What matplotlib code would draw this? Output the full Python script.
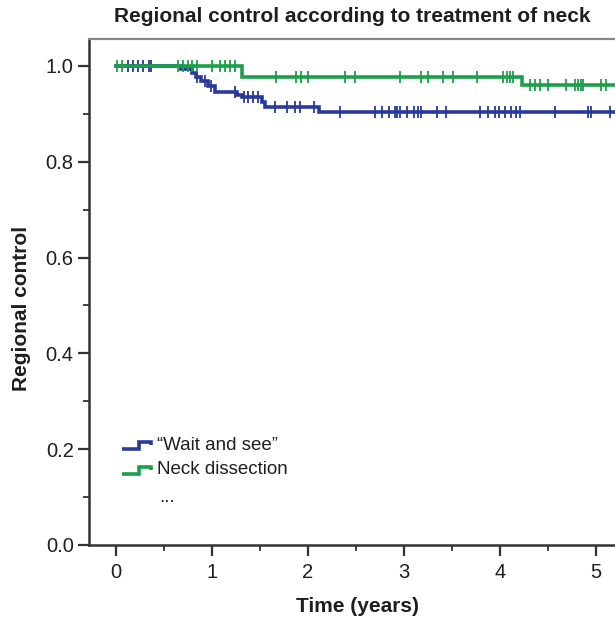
import matplotlib
matplotlib.use("Agg")
import matplotlib.pyplot as plt
from matplotlib.ticker import MultipleLocator

plt.rcParams['font.family'] = ['Liberation Sans', 'DejaVu Sans']

# Kaplan-Meier step data (years, survival)
wait_times = [0.0, 0.68, 0.79, 0.83, 0.89, 0.96, 1.03, 1.26, 1.31, 1.52, 1.55, 2.12, 5.4]
wait_surv = [1.0, 0.993, 0.985, 0.977, 0.968, 0.957, 0.946, 0.939, 0.934, 0.925, 0.915, 0.904, 0.904]
wait_censor = [0.13, 0.18, 0.23, 0.28, 0.34, 0.37, 0.84, 0.93, 0.99, 1.24, 1.33, 1.38, 1.43, 1.48,
               1.66, 1.78, 1.86, 1.92, 2.06, 2.33, 2.70, 2.77, 2.84, 2.91, 2.93, 2.96, 3.03,
               3.10, 3.15, 3.18, 3.34, 3.44, 3.79, 3.88, 3.95, 3.99, 4.05, 4.12, 4.17, 4.21,
               4.57, 4.92, 4.95, 5.15]

neck_times = [0.0, 1.31, 4.23, 5.4]
neck_surv = [1.0, 0.976, 0.960, 0.960]
neck_censor = [0.01, 0.06, 0.65, 0.70, 0.75, 0.79, 0.84, 1.00, 1.08, 1.14, 1.19, 1.24,
               1.67, 1.88, 1.93, 2.00, 2.39, 2.49, 2.96, 3.18, 3.25, 3.41, 3.51, 3.76,
               4.03, 4.07, 4.10, 4.14, 4.31, 4.36, 4.42, 4.50, 4.69, 4.78, 4.81, 4.84,
               4.87, 5.05, 5.10]

labels = ["\u201cWait and see\u201d", "Neck dissection"]
blue = "#28399a"
green = "#1c9f4b"
ink = "#1e1e1e"


def surv_at(times, surv, t):
    s = surv[0]
    for ti, si in zip(times, surv):
        if ti <= t:
            s = si
    return s


fig = plt.figure(figsize=(6.15, 6.22), dpi=100)
ax = fig.add_axes([89 / 615, 1 - 545 / 622, 530 / 615, 506 / 622])

for times, surv, cens, col in [(wait_times, wait_surv, wait_censor, blue),
                               (neck_times, neck_surv, neck_censor, green)]:
    ax.step(times, surv, where="post", color=col, lw=2.6, solid_joinstyle="miter")
    ax.plot(cens, [surv_at(times, surv, c) for c in cens], ls="none", marker="|",
            ms=8, mew=1.3, color=col)

ax.set_xlim(-0.281, 5.24)
ax.set_ylim(0.0, 1.056)
ax.xaxis.set_major_locator(MultipleLocator(1))
ax.xaxis.set_minor_locator(MultipleLocator(0.5))
ax.yaxis.set_major_locator(MultipleLocator(0.2))
ax.yaxis.set_minor_locator(MultipleLocator(0.1))
ax.yaxis.set_major_formatter(matplotlib.ticker.FormatStrFormatter("%.1f"))
ax.tick_params(which="major", length=8, width=1.6, color="#333333", labelsize=14.5,
               labelcolor=ink)
ax.tick_params(axis="y", which="major", pad=3)
ax.tick_params(axis="x", which="major", pad=5)
ax.tick_params(which="minor", length=4, width=1.3, color="#333333")
ax.spines["right"].set_visible(False)
ax.spines["left"].set_color("#333333")
ax.spines["left"].set_linewidth(1.8)
ax.spines["bottom"].set_color("#333333")
ax.spines["bottom"].set_linewidth(1.8)
ax.spines["top"].set_color("#888888")
ax.spines["top"].set_linewidth(1.6)

# legend drawn by hand to mimic the step-shaped keys
gx = [0.0, 0.55, 0.55, 0.95, 0.95]
gy = [0.0, 0.0, 1.0, 1.0, 0.55]
for i, (lab, col) in enumerate([(labels[0], blue), (labels[1], green)]):
    x0 = (122 - 89) / 530
    y0 = (545 - 449 - i * 25) / 506
    ax.plot([x0 + g * 30 / 530 for g in gx], [y0 + g * 7 / 506 for g in gy],
            transform=ax.transAxes, color=col, lw=2.6, solid_joinstyle="miter",
            solid_capstyle="butt")
    ax.text((157 - 89) / 530, y0 + 4 / 506, lab, transform=ax.transAxes,
            fontsize=13.5, color=ink, va="center", ha="left")
ax.text((159 - 89) / 530, (545 - 498) / 506, "...", transform=ax.transAxes,
        fontsize=13.5, color=ink, va="center", ha="left")

fig.text(352 / 615, 1 - 17 / 622, "Regional control according to treatment of neck",
         ha="center", va="center", fontsize=15, fontweight="bold", color=ink)
fig.text(357 / 615, 1 - 606 / 622, "Time (years)", ha="center", va="center",
         fontsize=15, fontweight="bold", color=ink)
fig.text(22 / 615, 1 - 308 / 622, "Regional control", ha="center", va="center",
         rotation=90, fontsize=15, fontweight="bold", color=ink)

fig.savefig("out.png", dpi=100)
